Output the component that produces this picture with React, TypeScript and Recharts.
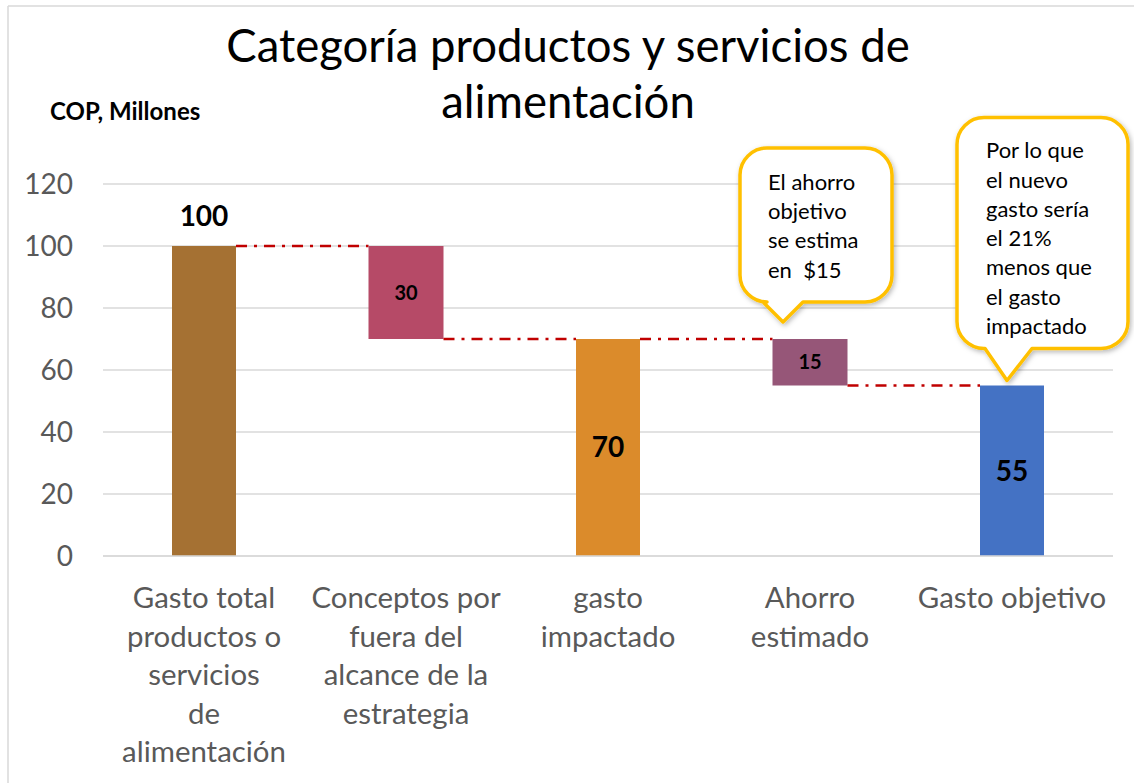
import React from 'react';
import { ComposedChart, Bar, XAxis, YAxis, CartesianGrid, LabelList } from 'recharts';

// ---------- data ----------
const CATEGORIES = [
  'Gasto total productos o servicios de alimentación',
  'Conceptos por fuera del alcance de la estrategia',
  'gasto impactado',
  'Ahorro estimado',
  'Gasto objetivo',
];
const CATEGORY_LINES = [
  ['Gasto total', 'productos o', 'servicios', 'de', 'alimentación'],
  ['Conceptos por', 'fuera del', 'alcance de la', 'estrategia'],
  ['gasto', 'impactado'],
  ['Ahorro', 'estimado'],
  ['Gasto objetivo'],
];
const STEP_VALUES = [100, -30, 70, -15, 55];
const STEP_KINDS = ['total', 'delta', 'total', 'delta', 'total'];
const BAR_COLORS = ['#A57133', '#B64A67', '#DB8B2B', '#965678', '#4472C4'];
const Y_TICKS = [0, 20, 40, 60, 80, 100, 120];
const CALLOUT_TEXT: (string[] | null)[] = [
  null,
  null,
  null,
  ['El ahorro', 'objetivo', 'se estima', 'en  $15'],
  ['Por lo que', 'el nuevo', 'gasto sería', 'el 21%', 'menos que', 'el gasto', 'impactado'],
];
const TITLE_LINES = ['Categoría productos y servicios de', 'alimentación'];
const UNIT_LABEL = 'COP, Millones';

// waterfall table built from the arrays above
let running = 0;
const data = CATEGORIES.map((category, i) => {
  const v = STEP_VALUES[i];
  let range: number[];
  if (STEP_KINDS[i] === 'total') {
    range = [0, v];
    running = v;
  } else {
    range = [running + v, running];
    running = running + v;
  }
  return { category, range, value: Math.abs(v), kind: STEP_KINDS[i], color: BAR_COLORS[i], idx: i };
});

// ---------- layout / style ----------
const W = 1134;
const H = 783;
const MARGIN = { top: 184, right: 21, bottom: 27, left: 23 };
const Y_AXIS_W = 80;
const X_AXIS_H = 200;
const STEP = (W - MARGIN.left - MARGIN.right - Y_AXIS_W) / CATEGORIES.length;
const TOTAL_W = 64;
const DELTA_W = 75;
const FONT = 'Lato, Carlito, Calibri, sans-serif';
const AXIS_TEXT = '#595959';
const CONNECTOR = '#C00000';
const CALLOUT_STROKE = '#FFC000';

const CALLOUT_LAYOUT: Record<number, any> = {
  3: { dl: -70, dr: 82, h: 154, gap: 37, tipDx: -27, tipGap: 17, baseL: -47, baseR: -7, textDx: 28, textDy: 34 },
  4: { dl: -55, dr: 116, h: 231, gap: 37, tipDx: -5, tipGap: 5, baseL: -27, baseR: 20, textDx: 29, textDy: 33 },
};

const barWidthOf = (kind: string) => (kind === 'delta' ? DELTA_W : TOTAL_W);

function WaterfallBar(props: any) {
  const { x, y, width, height, payload } = props;
  const idx = payload.idx;
  const w = barWidthOf(payload.kind);
  const cx = x + width / 2;
  const left = cx - w / 2;
  let conn = null;
  if (idx + 1 < data.length) {
    const cy = payload.kind === 'total' ? y : y + height;
    const nextW = barWidthOf(data[idx + 1].kind);
    conn = (
      <line
        x1={left + w}
        y1={cy}
        x2={cx + STEP - nextW / 2}
        y2={cy}
        stroke={CONNECTOR}
        strokeWidth={2.5}
        strokeDasharray="11 7 3 7"
      />
    );
  }
  return (
    <g>
      <rect x={left} y={y} width={w} height={height} fill={payload.color} />
      {conn}
    </g>
  );
}

function ValueLabel(props: any) {
  const { x, y, width, height, index } = props;
  const d = data[index];
  if (!d) return null;
  const cx = x + width / 2;
  if (index === 0) {
    return (
      <text x={cx} y={y - 30} dy="0.35em" textAnchor="middle" fontFamily={FONT} fontWeight={700} fontSize={28} fill="#000">
        {d.value}
      </text>
    );
  }
  const size = d.kind === 'delta' ? 20 : 28;
  return (
    <text x={cx} y={y + height / 2} dy="0.35em" textAnchor="middle" fontFamily={FONT} fontWeight={700} fontSize={size} fill="#000">
      {d.value}
    </text>
  );
}

function bubblePath(l: number, t: number, r: number, b: number, rad: number, bl: number, br: number, tx: number, ty: number) {
  return [
    `M ${l + rad} ${t}`,
    `H ${r - rad}`,
    `A ${rad} ${rad} 0 0 1 ${r} ${t + rad}`,
    `V ${b - rad}`,
    `A ${rad} ${rad} 0 0 1 ${r - rad} ${b}`,
    `H ${br}`,
    `L ${tx} ${ty}`,
    `L ${bl} ${b}`,
    `H ${l + rad}`,
    `A ${rad} ${rad} 0 0 1 ${l} ${b - rad}`,
    `V ${t + rad}`,
    `A ${rad} ${rad} 0 0 1 ${l + rad} ${t}`,
    'Z',
  ].join(' ');
}

function Callout(props: any) {
  const { x, y, width, index } = props;
  const lines = CALLOUT_TEXT[index];
  const lay = CALLOUT_LAYOUT[index];
  if (!lines || !lay) return null;
  const cx = x + width / 2;
  const b = y - lay.gap;
  const t = b - lay.h;
  const l = cx + lay.dl;
  const r = cx + lay.dr;
  const path = bubblePath(l, t, r, b, 27, cx + lay.baseL, cx + lay.baseR, cx + lay.tipDx, y - lay.tipGap);
  return (
    <g>
      <defs>
        <filter id={`shadow${index}`} x="-20%" y="-20%" width="140%" height="140%">
          <feDropShadow dx="1.5" dy="2" stdDeviation="2.5" floodColor="#000" floodOpacity="0.28" />
        </filter>
      </defs>
      <path d={path} fill="#fff" stroke={CALLOUT_STROKE} strokeWidth={3.5} strokeLinejoin="round" filter={`url(#shadow${index})`} />
      {lines.map((ln, k) => (
        <text
          key={k}
          x={l + lay.textDx}
          y={t + lay.textDy + k * 29.3}
          dy="0.35em"
          fontFamily={FONT}
          fontSize={22}
          fill="#000"
          style={{ whiteSpace: 'pre' }}
        >
          {ln}
        </text>
      ))}
    </g>
  );
}

function CategoryTick(props: any) {
  const { x, y, payload } = props;
  const i = CATEGORIES.indexOf(payload.value);
  const lines = CATEGORY_LINES[i] || [payload.value];
  return (
    <g>
      {lines.map((ln, k) => (
        <text key={k} x={x} y={y + 42 + k * 38.5} dy="0.35em" textAnchor="middle" fontFamily={FONT} fontSize={29.4} fill={AXIS_TEXT}>
          {ln}
        </text>
      ))}
    </g>
  );
}

function ValueTick(props: any) {
  const { y, payload } = props;
  return (
    <text x={MARGIN.left + Y_AXIS_W - 30} y={y} dy="0.35em" textAnchor="end" fontFamily={FONT} fontSize={28} fill={AXIS_TEXT}>
      {payload.value}
    </text>
  );
}

export default function App() {
  return (
    <div style={{ position: 'absolute', left: 0, top: 0, width: W, height: H, background: '#fff' }}>
      <svg width={W} height={H} style={{ position: 'absolute', left: 0, top: 0, pointerEvents: 'none' }}>
        <line x1={8} y1={6} x2={W} y2={6} stroke="#d9d9d9" strokeWidth={1.5} />
        <line x1={8} y1={6} x2={8} y2={H} stroke="#d9d9d9" strokeWidth={1.5} />
        {TITLE_LINES.map((t, k) => (
          <text key={k} x={568} y={62 + k * 56} textAnchor="middle" fontFamily={FONT} fontSize={45.5} fill="#000">
            {t}
          </text>
        ))}
        <text x={50} y={120} fontFamily={FONT} fontWeight={700} fontSize={24} fill="#000">
          {UNIT_LABEL}
        </text>
      </svg>
      <div style={{ position: 'absolute', left: 0, top: 0 }}>
        <ComposedChart width={W} height={H} data={data} margin={MARGIN} barCategoryGap={0}>
          <CartesianGrid vertical={false} stroke="#d9d9d9" strokeWidth={1.5} />
          <XAxis
            dataKey="category"
            height={X_AXIS_H}
            interval={0}
            tickLine={false}
            tickSize={0}
            tickMargin={0}
            axisLine={{ stroke: '#d9d9d9', strokeWidth: 1.5 }}
            tick={<CategoryTick />}
          />
          <YAxis
            width={Y_AXIS_W}
            domain={[0, 120]}
            ticks={Y_TICKS}
            interval={0}
            axisLine={false}
            tickLine={false}
            tick={<ValueTick />}
          />
          <Bar dataKey="range" barSize={TOTAL_W} isAnimationActive={false} shape={<WaterfallBar />}>
            <LabelList dataKey="value" content={<ValueLabel />} />
            <LabelList dataKey="value" content={<Callout />} />
          </Bar>
        </ComposedChart>
      </div>
    </div>
  );
}
